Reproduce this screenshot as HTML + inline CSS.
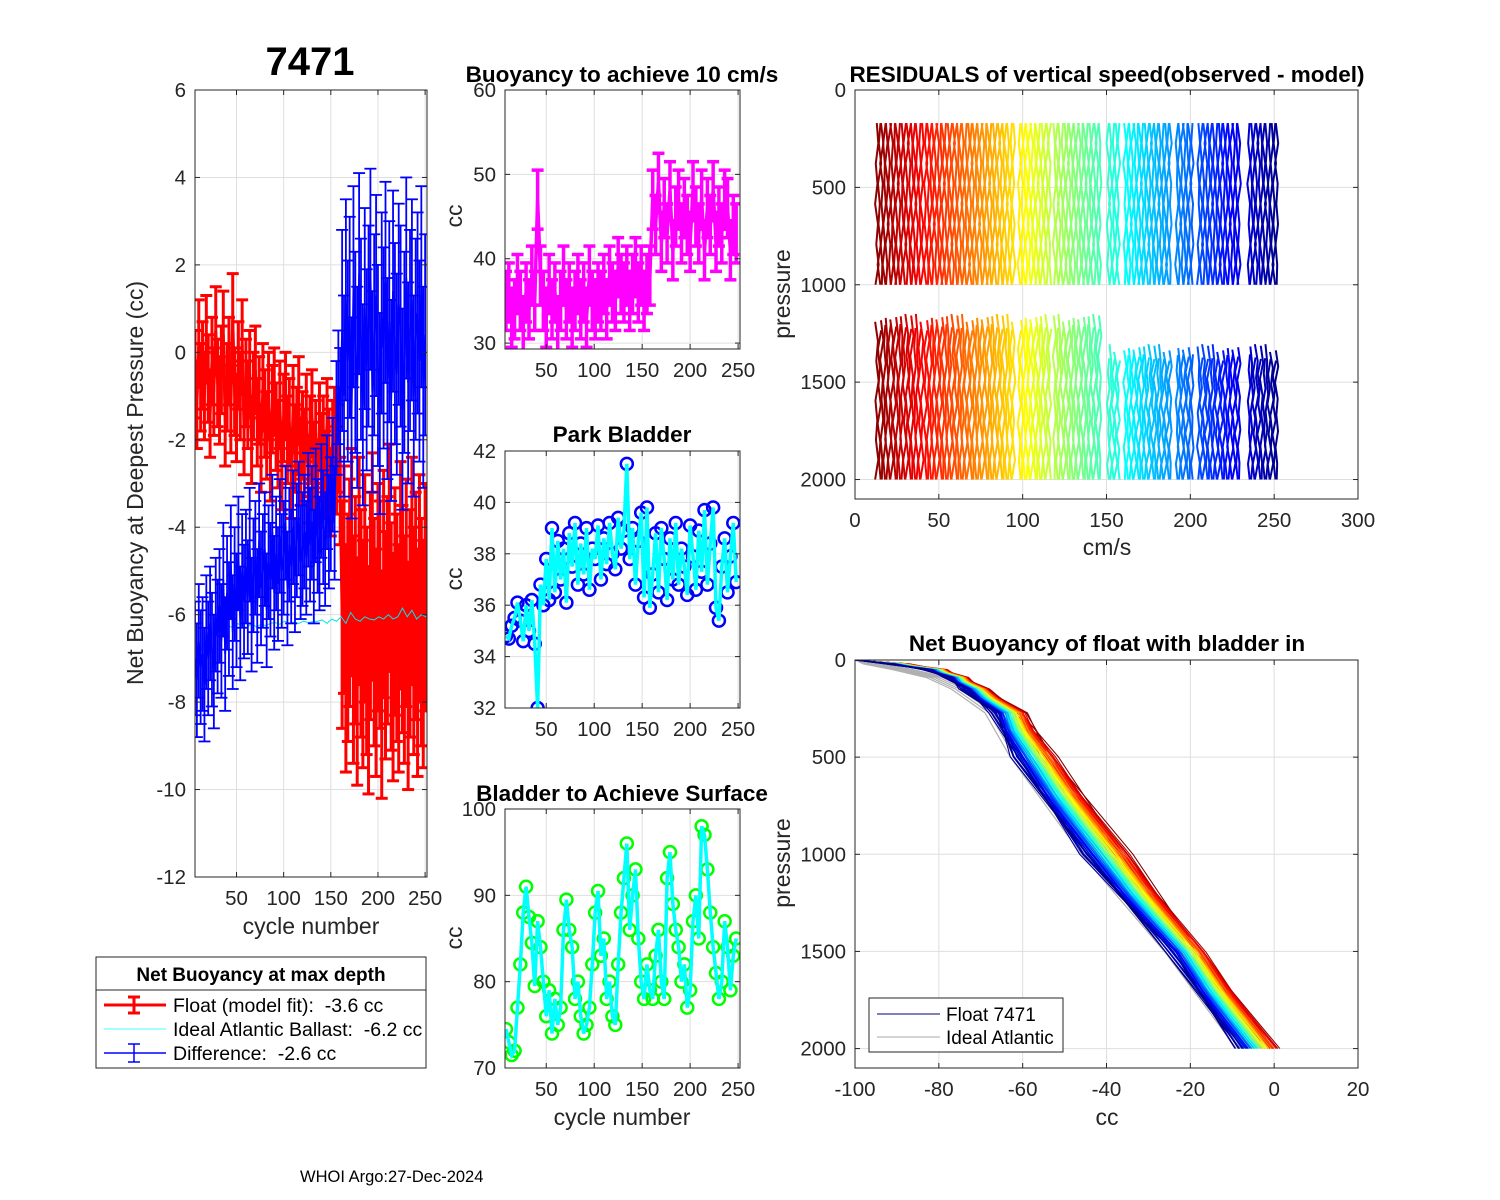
<!DOCTYPE html>
<html><head><meta charset="utf-8"><title>7471</title>
<style>
html,body{margin:0;padding:0;background:#fff;}
svg{display:block;font-family:"Liberation Sans",Arial,sans-serif;}
text{white-space:pre;}
</style></head>
<body>
<svg id="chart" width="1500" height="1200" viewBox="0 0 1500 1200" xmlns="http://www.w3.org/2000/svg">
<rect x="0" y="0" width="1500" height="1200" fill="#fff"/>
<text x="310" y="75" font-size="40" font-weight="bold" text-anchor="middle">7471</text>
<text x="622" y="82" font-size="22.5" font-weight="bold" text-anchor="middle">Buoyancy to achieve 10 cm/s</text>
<text x="1107" y="82" font-size="22.5" font-weight="bold" text-anchor="middle">RESIDUALS of vertical speed(observed - model)</text>
<text x="622" y="442" font-size="22.5" font-weight="bold" text-anchor="middle">Park Bladder</text>
<text x="622" y="801" font-size="22.5" font-weight="bold" text-anchor="middle">Bladder to Achieve Surface</text>
<text x="1107" y="651" font-size="22.5" font-weight="bold" text-anchor="middle">Net Buoyancy of float with bladder in</text>
<text transform="translate(143,483) rotate(-90)" font-size="23" fill="#262626" text-anchor="middle">Net Buoyancy at Deepest Pressure (cc)</text>
<text x="311" y="934" font-size="23" fill="#262626" text-anchor="middle">cycle number</text>
<text transform="translate(462,216) rotate(-90)" font-size="23" fill="#262626" text-anchor="middle">cc</text>
<text transform="translate(462,579) rotate(-90)" font-size="23" fill="#262626" text-anchor="middle">cc</text>
<text transform="translate(462,938) rotate(-90)" font-size="23" fill="#262626" text-anchor="middle">cc</text>
<text x="622" y="1125" font-size="23" fill="#262626" text-anchor="middle">cycle number</text>
<text transform="translate(790,294) rotate(-90)" font-size="23" fill="#262626" text-anchor="middle">pressure</text>
<text transform="translate(790,863) rotate(-90)" font-size="23" fill="#262626" text-anchor="middle">pressure</text>
<text x="1107" y="555" font-size="23" fill="#262626" text-anchor="middle">cm/s</text>
<text x="1107" y="1125" font-size="23" fill="#262626" text-anchor="middle">cc</text>
<text x="300" y="1182" font-size="16.5" fill="#000">WHOI Argo:27-Dec-2024</text>

<g>
<rect x="96" y="957" width="330" height="111" fill="#fff" stroke="#262626" stroke-width="1"/>
<text x="261" y="981" font-size="19" font-weight="bold" text-anchor="middle">Net Buoyancy at max depth</text>
<line x1="96" y1="990" x2="426" y2="990" stroke="#262626" stroke-width="1"/>
<g>
<line x1="104" y1="1005" x2="166" y2="1005" stroke="#f00" stroke-width="3"/>
<line x1="134" y1="997" x2="134" y2="1013" stroke="#f00" stroke-width="3"/>
<line x1="128" y1="997" x2="140" y2="997" stroke="#f00" stroke-width="3"/>
<line x1="128" y1="1013" x2="140" y2="1013" stroke="#f00" stroke-width="3"/>
<text x="173" y="1012" font-size="19.5">Float (model fit):  -3.6 cc</text></g>
<g>
<line x1="104" y1="1029" x2="166" y2="1029" stroke="#0ff" stroke-width="0.8"/>
<text x="173" y="1036" font-size="19.5">Ideal Atlantic Ballast:  -6.2 cc</text></g>
<g>
<line x1="104" y1="1053" x2="166" y2="1053" stroke="#00f" stroke-width="1.5"/>
<line x1="134" y1="1044" x2="134" y2="1062" stroke="#00f" stroke-width="1.5"/>
<line x1="128" y1="1044" x2="140" y2="1044" stroke="#00f" stroke-width="1.5"/>
<line x1="128" y1="1062" x2="140" y2="1062" stroke="#00f" stroke-width="1.5"/>
<text x="173" y="1060" font-size="19.5">Difference:  -2.6 cc</text></g>
</g>
</svg>
<script>
// ---------- data ----------
const floatCycles = [6,8,10,12,14,16,18,20,22,24,26,28,30,32,34,36,38,40,42,44,46,48,50,52,54,56,58,60,62,64,66,68,70,72,74,76,78,80,82,84,86,88,90,92,94,96,98,100,102,104,106,108,110,112,114,116,118,120,122,124,126,128,130,132,134,136,138,140,142,144,146,148,150,152,154,156,158,160,162,164,166,168,170,172,174,176,178,180,182,184,186,188,190,192,194,196,198,200,202,204,206,208,210,212,214,216,218,220,222,224,226,228,230,232,234,236,238,240,242,244,246,248,250];
const floatFit = [-0.5,-1.2,0.2,-0.8,-0.3,-1.0,0.3,-0.6,-1.4,-0.2,-0.9,0.5,-0.7,
 -1.1,-0.4,0.4,-1.6,-0.8,-0.2,-1.3,0.8,-0.9,-1.5,-0.3,-1.0,0.2,-1.8,-0.7,
 -1.2,-0.5,-2.0,-1.0,-0.4,-1.6,-1.1,-2.2,-0.8,-1.4,-1.9,-1.0,-2.4,-1.3,-0.9,
 -1.7,-2.1,-1.2,-2.6,-1.5,-1.0,-2.0,-1.6,-2.8,-1.3,-2.2,-1.8,-1.1,-2.5,-1.9,
 -2.3,-1.5,-2.9,-2.0,-1.4,-2.6,-2.1,-3.0,-1.7,-2.4,-2.0,-2.8,-1.6,-2.3,-3.2,-2.1,-1.8,-2.7,-2.2,-3.4,
 -6.0,-5.2,-7.0,-6.3,-5.5,-4.8,-6.8,-5.9,-7.3,-5.0,-6.2,-6.9,-5.4,-6.6,-7.5,-5.8,-4.9,-6.4,-7.1,-5.6,-6.0,-7.6,-5.3,-6.7,-5.9,-4.7,-6.5,-7.2,-5.7,-6.3,-7.0,-5.1,-6.1,-6.8,-5.5,-7.4,-6.2,-5.0,-6.6,-5.8,-7.1,-5.4,-6.4,-6.9,-5.6];
const floatErrEarly = 1.0, floatErrLate = 2.6, errSplitCycle = 160;
const diffVals = [-7.0,-7.5,-6.6,-7.2,-6.9,-7.6,-6.4,-7.0,-6.2,-6.8,-7.3,-6.0,-6.5,
 -5.8,-6.6,-5.2,-6.9,-5.5,-6.1,-4.8,-6.4,-5.3,-5.9,-4.6,-6.2,-5.0,-5.7,-4.9,
 -5.6,-4.4,-6.0,-5.1,-4.7,-5.8,-4.3,-5.4,-5.0,-4.5,-5.9,-4.8,-5.2,-4.1,-5.5,
 -4.6,-5.3,-4.2,-5.0,-4.7,-3.9,-5.4,-4.4,-4.9,-4.0,-5.1,-4.3,-3.8,-4.8,-4.5,
 -4.1,-4.7,-3.6,-4.4,-3.9,-4.9,-3.5,-4.2,-4.6,-3.4,-4.0,-4.5,-3.2,-4.1,-3.7,-2.8,-3.9,-1.5,-0.8,-1.2,
 0.5,-1.0,1.2,-0.2,0.8,-1.5,1.5,0.0,-0.8,1.8,0.3,-1.2,1.0,-0.4,0.6,1.9,-0.9,0.4,1.3,-0.3,-1.4,0.9,0.1,1.6,-0.6,0.7,-1.1,1.4,0.2,-0.5,1.1,0.6,-1.3,0.0,1.7,-0.7,0.5,1.2,-1.0,0.3,0.9,-0.2,1.5,-0.8,0.4];
const diffErrEarly = 1.3, diffErrLate = 2.3;
const idealCycles = [6,11,16,21,26,31,36,41,46,51,56,61,66,71,76,81,86,91,96,101,106,111,116,121,126,131,136,141,146,151,156,161,166,171,176,181,186,191,196,201,206,211,216,221,226,231,236,241,246,251];
const idealVals = [-7.2,-6.9,-6.6,-6.5,-6.4,-6.35,-6.3,-6.25,-6.3,-6.2,-6.25,-6.3,-6.2,-6.28,-6.22,-6.25,-6.2,-6.18,-6.22,-6.15,-6.2,-6.17,-6.2,-6.15,-6.18,-6.16,-6.15,-6.12,-6.2,-6.1,-6.15,-6.05,-6.2,-5.95,-6.1,-6.15,-6.05,-6.1,-6.12,-6.05,-6.1,-6.0,-6.1,-6.05,-5.85,-6.05,-5.9,-6.1,-6.0,-6.05];

const smallCycles = [8,11,14,17,20,23,26,29,32,35,38,41,44,47,50,53,56,59,62,65,68,71,74,77,80,83,86,89,92,95,98,101,104,107,110,113,116,119,122,125,128,131,134,137,140,143,146,149,152,155,158,161,164,167,170,173,176,179,182,185,188,191,194,197,200,203,206,209,212,215,218,221,224,227,230,233,236,239,242,245,248];
const buoy10 = [35,36,33,34,37,35,32,36,34,38,35, 47,38,35,33,37,34,36,32,35,38,34, 36,33,35,37,34,36,33,38,35,34,36, 35,37,34,38,36,35,39,37,36,38,35, 37,39,36,38,35,37,38,
 47,44,49,42,46,43,48,41,45,47,43,46,44,42,48,45,43,47,41,46,44,48,42,45,43,47,46,41,44,43];
const buoy10Err = 3.5;
const parkBladder = [34.8,34.7,35.2,35.5,36.1,35.4,34.6,36.0,35.0,36.2,34.5, 32.0,36.8,36.0,37.8,36.2,39.0,36.5,38.5,37.0,38.2,36.1, 38.8,37.5,39.2,36.8,38.4,37.2,39.0,36.6,38.2,37.8,39.1, 37.0,38.6,37.6,39.2,38.0,37.4,39.4,38.2,38.9,41.5,37.8, 39.0,36.8,38.5,39.6,36.3,39.8,35.9,
 37.2,38.8,36.5,39.0,37.8,36.2,38.6,37.0,39.2,36.8,38.2,37.5,36.4,39.1,37.9,36.6,38.9,37.3,39.7,36.8,38.4,39.8,35.9,35.4,37.5,38.6,36.5,37.9,39.2,36.9];
const surfBladder = [74.5,73,71.5,72,77,82,88,91,87.5,84.5,79.5, 87,84,80,76,79,74,78,75,77,86,89.5, 86,84,78,80,76,74,75,77,82,88,90.5, 83,85,78,80,76,75,82,88,92,96,86, 90,93,85,80,78,82,79,
 78,83,86,80,78,92,95,89,86,84,80,82,77,79,87,90,85,98,97,93,88,84,81,78,80,87,84,79,83,85];

const residRanges = [[13,40],[42,95],[98,116],[119,147],[151,158],[161,188],[192,201],[205,230],[235,252]];
const residStep = 1.5;
const residWiggle = [0.0,0.9,-0.6,0.4,-1.0,0.7,-0.3,1.1,-0.8,0.3,-0.5,0.9,-1.0,0.6,-0.2,0.8,-0.7,0.3];
const upperTop = 170, upperBottom = 1000, lowerTopEarly = 1190, lowerTopLate = 1345, lowerBottom = 2000, lowerSplitCycle = 150;
const residPoints = 9;

const nbPressure = [0,20,50,90,150,272,498,1000,1505,2000];
const nbEarly = [-100,-88,-79,-74,-69,-60,-52.7,-35,-17,0.5];
const nbLate = [-100,-92,-83,-78,-74,-67,-62,-45.6,-25,-8.6];
const nbIdeal = [-100,-95,-88,-80,-74,-66,-60,-43,-23,-6];
const nbCycles = [10,13,16,19,22,25,28,31,34,37,40,43,46,49,52,55,58,61,64,67,70,73,76,79,82,85,88,91,94,97,100,103,106,109,112,115,118,121,124,127,130,133,136,139,142,145,148,151,154,157,160,163,166,169,172,175,178,181,184,187,190,193,196,199,202,205,208,211,214,217,220,223,226,229,232,235,238,241,244,247,250];
const idealShift = [-2,0,2,-3,1,-1];

// ---------- helpers ----------
const NS = 'http://www.w3.org/2000/svg';
const svg = document.getElementById('chart');
function mk(tag, attrs, parent){ const e=document.createElementNS(NS,tag); for(const k in attrs) e.setAttribute(k,attrs[k]); (parent||svg).appendChild(e); return e; }
let clipId=0;
function makeAxes(name, x0,y0,x1,y1, xmin,xmax,ymin,ymax, xticks,yticks, yRev){
  const sx = v => x0 + (v-xmin)/(xmax-xmin)*(x1-x0);
  const sy = yRev ? (v => y0 + (v-ymin)/(ymax-ymin)*(y1-y0)) : (v => y1 - (v-ymin)/(ymax-ymin)*(y1-y0));
  const g = mk('g',{});
  
  
  mk('rect',{x:x0,y:y0,width:x1-x0,height:y1-y0,fill:'#fff'},g);
  const grid = mk('g',{stroke:'#dfdfdf','stroke-width':1},g);
  
  
  xticks.forEach(t=>mk('line',{x1:sx(t),x2:sx(t),y1:y0,y2:y1},grid));
  yticks.forEach(t=>mk('line',{x1:x0,x2:x1,y1:sy(t),y2:sy(t)},grid));
  clipId++;
  const cp = mk('clipPath',{id:'c'+clipId},g);
  mk('rect',{x:x0,y:y0,width:x1-x0,height:y1-y0},cp);
  const data = mk('g',{'clip-path':'url(#c'+clipId+')'},g);
  
  
  const over = mk('g',{},svg);
  
  
  mk('rect',{x:x0,y:y0,width:x1-x0,height:y1-y0,fill:'none',stroke:'#262626','stroke-width':1},over);
  xticks.forEach(t=>{
    mk('line',{x1:sx(t),x2:sx(t),y1:y1,y2:y1-5,stroke:'#262626'},over);
    mk('line',{x1:sx(t),x2:sx(t),y1:y0,y2:y0+5,stroke:'#262626'},over);
    const tx = mk('text',{x:sx(t),y:y1+28,'font-size':20.5,fill:'#262626','text-anchor':'middle'},over);
    
    
    tx.textContent = t;
  });
  yticks.forEach(t=>{
    mk('line',{x1:x0,x2:x0+5,y1:sy(t),y2:sy(t),stroke:'#262626'},over);
    mk('line',{x1:x1,x2:x1-5,y1:sy(t),y2:sy(t),stroke:'#262626'},over);
    const tx = mk('text',{x:x0-9,y:sy(t)+7,'font-size':20.5,fill:'#262626','text-anchor':'end'},over);
    
    
    tx.textContent = t;
  });
  return {sx,sy,data};
}
function jet(t){
  const c=v=>Math.max(0,Math.min(1,v));
  const r=c(1.5-Math.abs(4*t-3)), g=c(1.5-Math.abs(4*t-2)), b=c(1.5-Math.abs(4*t-1));
  return 'rgb('+Math.round(r*255)+','+Math.round(g*255)+','+Math.round(b*255)+')';
}
function errbars(ax, xs, ys, errs, color, lw, cap, name){
  const g = mk('g',{stroke:color,'stroke-width':lw,fill:'none'},ax.data);
  
  
  xs.forEach((c,i)=>{
    const e=errs(c), x=ax.sx(c), yt=ax.sy(ys[i]+e), yb=ax.sy(ys[i]-e);
    mk('line',{x1:x,x2:x,y1:yt,y2:yb},g);
    mk('line',{x1:x-cap,x2:x+cap,y1:yt,y2:yt},g);
    mk('line',{x1:x-cap,x2:x+cap,y1:yb,y2:yb},g);
  });
  const pl = mk('polyline',{points:xs.map((c,i)=>ax.sx(c)+','+ax.sy(ys[i])).join(' '),stroke:color,'stroke-width':lw,fill:'none'},ax.data);
  
  
}

// ---------- panel 1 ----------
const ax1 = makeAxes('netbuoy-panel',195,90,427,877,6,252,-12,6,[50,100,150,200,250],[-12,-10,-8,-6,-4,-2,0,2,4,6],false);
errbars(ax1, floatCycles, floatFit, c=>c<=errSplitCycle?floatErrEarly:floatErrLate, '#ff0000', 3, 6, 'float-fit-series');
const idl = mk('polyline',{points:idealCycles.map((c,i)=>ax1.sx(c)+','+ax1.sy(idealVals[i])).join(' '),stroke:'#00e5e5','stroke-width':1,fill:'none'},ax1.data);


errbars(ax1, floatCycles, diffVals, c=>c<=errSplitCycle?diffErrEarly:diffErrLate, '#0000ff', 1.8, 6, 'difference-series');

// ---------- panel 2 ----------
const ax2 = makeAxes('buoy10-panel',505,90,740,349,7,252,29.3,60,[50,100,150,200,250],[30,40,50,60],false);
errbars(ax2, smallCycles, buoy10, ()=>buoy10Err, '#ff00ff', 3.5, 6, 'buoy10-series');

// ---------- panel 3 ----------
const ax3 = makeAxes('park-bladder-panel',505,451,740,708,7,252,32,42,[50,100,150,200,250],[32,34,36,38,40,42],false);
(function(){
  const g = mk('g',{},ax3.data);
  
  
  smallCycles.forEach((c,i)=>{ mk('circle',{cx:ax3.sx(c),cy:ax3.sy(parkBladder[i]),r:6,fill:'none',stroke:'#0000ff','stroke-width':2.5},g); });
  mk('polyline',{points:smallCycles.map((c,i)=>ax3.sx(c)+','+ax3.sy(parkBladder[i])).join(' '),stroke:'#00ffff','stroke-width':3.5,fill:'none'},g);
})();

// ---------- panel 4 ----------
const ax4 = makeAxes('surface-bladder-panel',505,809,740,1068,7,252,70,100,[50,100,150,200,250],[70,80,90,100],false);
(function(){
  const g = mk('g',{},ax4.data);
  
  
  smallCycles.forEach((c,i)=>{ mk('circle',{cx:ax4.sx(c),cy:ax4.sy(surfBladder[i]),r:6,fill:'none',stroke:'#00ff00','stroke-width':2.5},g); });
  mk('polyline',{points:smallCycles.map((c,i)=>ax4.sx(c)+','+ax4.sy(surfBladder[i])).join(' '),stroke:'#00ffff','stroke-width':3.5,fill:'none'},g);
})();

// ---------- panel 5 ----------
const ax5 = makeAxes('residuals-panel',855,90,1358,499,0,300,0,2100,[0,50,100,150,200,250,300],[0,500,1000,1500,2000],true);
(function(){
  const g = mk('g',{fill:'none','stroke-width':2,'stroke-linejoin':'round'},ax5.data);
  
  
  let n=0; const W=residWiggle.length, P=residPoints;
  residRanges.forEach(rg=>{
    for(let c=rg[0]; c<=rg[1]; c+=residStep){
      const col = jet(1-(c-10)/245);
      const up=[], lo=[];
      for(let k=0;k<P;k++){
        const p = upperTop + (upperBottom-upperTop)*k/(P-1);
        up.push(ax5.sx(c+residWiggle[(k+n*5)%W])+','+ax5.sy(p));
      }
      const lt = (c<lowerSplitCycle?lowerTopEarly:lowerTopLate) + residWiggle[(n*7)%W]*40;
      for(let k=0;k<P;k++){
        const p = lt + (lowerBottom-lt)*k/(P-1);
        lo.push(ax5.sx(c+residWiggle[(k+n*3+4)%W])+','+ax5.sy(p));
      }
      mk('polyline',{points:up.join(' '),stroke:col},g);
      mk('polyline',{points:lo.join(' '),stroke:col},g);
      n++;
    }
  });
})();

// ---------- panel 6 ----------
const ax6 = makeAxes('net-buoyancy-profile-panel',855,660,1358,1068,-100,20,0,2100,[-100,-80,-60,-40,-20,0,20],[0,500,1000,1500,2000],true);
(function(){
  const gi = mk('g',{fill:'none','stroke-width':1.2,stroke:'#b0b0b0'},ax6.data);
  
  
  idealShift.forEach(s=>{
    mk('polyline',{points:nbPressure.map((p,k)=>ax6.sx(nbIdeal[k]+(k>0?s:0))+','+ax6.sy(p)).join(' ')},gi);
  });
  const g = mk('g',{fill:'none','stroke-width':1.1},ax6.data);
  
  
  nbCycles.forEach((c,i)=>{
    const f=(c-10)/240;
    const pts = nbPressure.map((p,k)=>{
      const v = nbEarly[k] + (nbLate[k]-nbEarly[k])*f + (k>0?residWiggle[(i+k)%residWiggle.length]*1.2:0);
      return ax6.sx(v)+','+ax6.sy(p);
    });
    mk('polyline',{points:pts.join(' '),stroke:jet(1-f)},g);
  });
})();
// legend panel 6
(function(){
  const g = mk('g',{});
  
  
  mk('rect',{x:869,y:998,width:194,height:54,fill:'#fff',stroke:'#262626','stroke-width':1},g);
  mk('line',{x1:877,x2:940,y1:1014,y2:1014,stroke:'#000080','stroke-width':1},g);
  mk('line',{x1:877,x2:940,y1:1037,y2:1037,stroke:'#aaa','stroke-width':1},g);
  const t1 = mk('text',{x:946,y:1021,'font-size':19},g); t1.textContent='Float 7471';
  
  
  const t2 = mk('text',{x:946,y:1044,'font-size':19},g); t2.textContent='Ideal Atlantic';
  
  
})();
</script>
</body></html>
